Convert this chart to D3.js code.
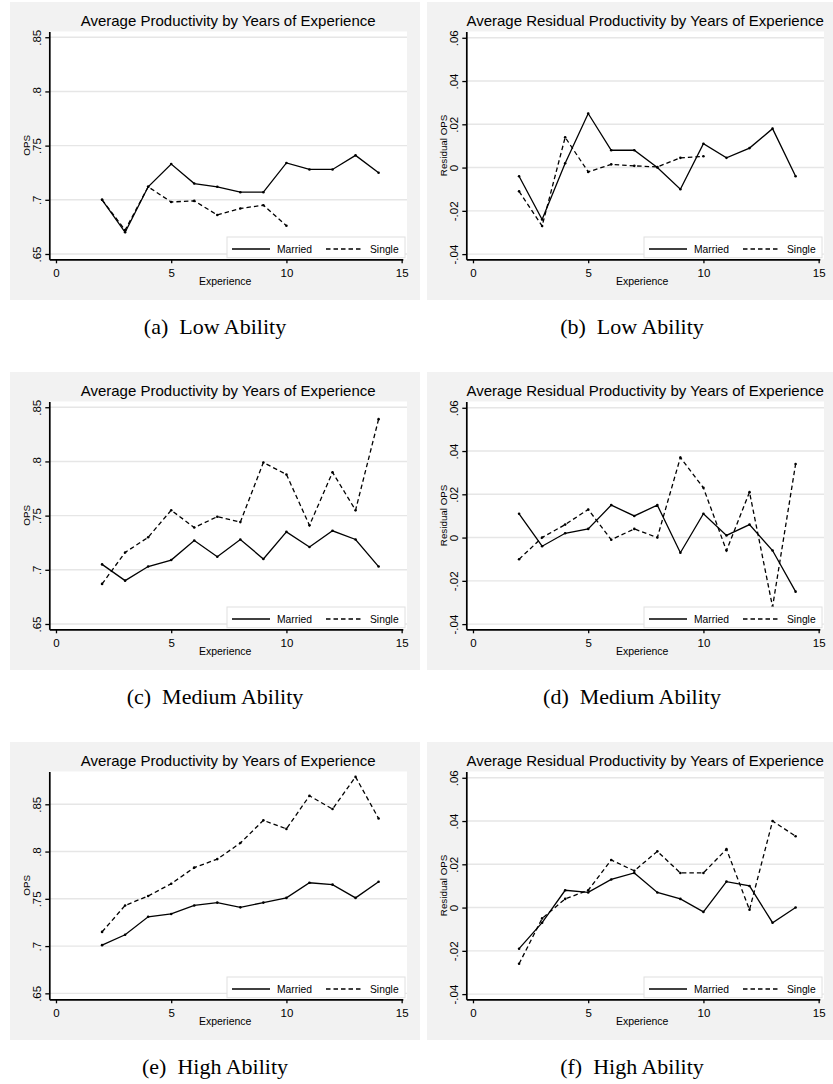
<!DOCTYPE html>
<html>
<head>
<meta charset="utf-8">
<script src="https://cdn.jsdelivr.net/npm/d3@7"></script>
<style>
body{margin:0;background:#fff}
svg{display:block}
text{font-family:"Liberation Sans",Arial,sans-serif;fill:#000}
text.cap{font-family:"Liberation Serif","Times New Roman",serif}
</style>
</head>
<body>
<svg id="fig"></svg>
<script>
// datos
const years = [2,3,4,5,6,7,8,9,10,11,12,13,14]
const yearsLowSingle = [2,3,4,5,6,7,8,9,10]

const lowMarried = [.700,.670,.712,.733,.715,.712,.707,.707,.734,.728,.728,.741,.725]
const lowSingle = [.700,.672,.712,.698,.699,.686,.692,.695,.676]
const lowResMarried = [-.004,-.024,.002,.025,.008,.008,.000,-.010,.011,.0045,.009,.018,-.004]
const lowResSingle = [-.011,-.027,.014,-.002,.0015,.0008,.0003,.0045,.0052]

const midMarried = [.705,.690,.703,.709,.727,.712,.728,.710,.735,.721,.736,.728,.703]
const midSingle = [.687,.716,.730,.755,.739,.749,.744,.799,.788,.741,.790,.755,.839]
const midResMarried = [.011,-.004,.002,.004,.015,.010,.015,-.007,.011,.001,.006,-.006,-.025]
const midResSingle = [-.010,.000,.006,.013,-.001,.004,.000,.037,.023,-.006,.021,-.032,.034]

const highMarried = [.701,.712,.731,.734,.743,.746,.741,.746,.751,.767,.765,.751,.768]
const highSingle = [.715,.743,.753,.766,.783,.792,.809,.833,.824,.859,.845,.879,.835]
const highResMarried = [-.019,-.007,.008,.007,.013,.016,.007,.004,-.002,.012,.010,-.007,.000]
const highResSingle = [-.026,-.005,.004,.008,.022,.017,.026,.016,.016,.027,-.001,.040,.033]

const xTicks = [0,5,10,15]
const opsTicks = [.65,.7,.75,.8,.85]
const resTicks = [-.04,-.02,0,.02,.04,.06]
const legendLabels = ['Married','Single']
const titles = ['Average Productivity by Years of Experience','Average Residual Productivity by Years of Experience']
const captions = ['(a)','(b)','(c)','(d)','(e)','(f)']
const abilities = ['Low Ability','Low Ability','Medium Ability','Medium Ability','High Ability','High Ability']

const width = 833
const height = 1084
const colX = [10, 427]
const rowY = [2, 372, 742]
const pw = 410, ph = 298
const plot = {left: 39.3, right: 397, top: 29.5, bottom: 257.3}

const svg = d3.select('#fig').attr('width', width).attr('height', height)

const fmt = v => String(v).replace(/^(-?)0\./, '$1.')

const panels = [
  {married: lowMarried, single: lowSingle, sy: yearsLowSingle, res: false, dom: [.6451,.8553]},
  {married: lowResMarried, single: lowResSingle, sy: yearsLowSingle, res: true, dom: [-.0424,.0629]},
  {married: midMarried, single: midSingle, sy: years, res: false, dom: [.6451,.8553]},
  {married: midResMarried, single: midResSingle, sy: years, res: true, dom: [-.0424,.0629]},
  {married: highMarried, single: highSingle, sy: years, res: false, dom: [.6437,.8847]},
  {married: highResMarried, single: highResSingle, sy: years, res: true, dom: [-.0424,.0629]}
]

panels.forEach((p, i) => {
  const g = svg.append('g')
    .attr('transform', `translate(${colX[i % 2]},${rowY[Math.floor(i / 2)]})`)

  // fondo gris y area blanca
  g.append('rect').attr('width', pw).attr('height', ph).attr('fill', '#f2f2f2')
  g.append('rect')
    .attr('x', plot.left).attr('y', plot.top)
    .attr('width', plot.right - plot.left).attr('height', plot.bottom - plot.top)
    .attr('fill', '#fff')

  const xScale = d3.scaleLinear().domain([-0.29, 15.05]).range([plot.left, plot.right - 4.2])
  const yScale = d3.scaleLinear().domain(p.dom).range([plot.bottom, plot.top])
  const ticks = p.res ? resTicks : opsTicks

  // lineas de grilla
  g.selectAll('.grid')
    .data(ticks)
    .enter()
    .append('line')
    .attr('x1', plot.left).attr('x2', plot.right)
    .attr('y1', d => yScale(d)).attr('y2', d => yScale(d))
    .attr('stroke', '#e6e6e6').attr('stroke-width', 1.4)

  // titulo
  g.append('text')
    .attr('x', (plot.left + plot.right) / 2).attr('y', 24)
    .attr('text-anchor', 'middle').attr('font-size', 15)
    .text(titles[i % 2])

  // ejes
  const xAxis = g.append('g')
    .attr('transform', `translate(0,${plot.bottom})`)
    .call(d3.axisBottom(xScale).tickValues(xTicks).tickSize(4).tickSizeOuter(0))
  xAxis.select('.domain').attr('stroke-width', 1.7)
  xAxis.selectAll('.tick line').attr('stroke-width', 1.3)
  xAxis.selectAll('.tick text').attr('font-size', 11.5).attr('y', 17.5).attr('dy', 0)
    .attr('font-family', '"Liberation Sans",Arial,sans-serif')

  const yAxis = g.append('g')
    .attr('transform', `translate(${plot.left},0)`)
    .call(d3.axisLeft(yScale).tickValues(ticks).tickSize(4).tickSizeOuter(0).tickFormat(fmt))
  yAxis.select('.domain').attr('stroke-width', 1.7)
  yAxis.selectAll('.tick line').attr('stroke-width', 1.3)
  yAxis.selectAll('.tick text')
    .attr('x', 0).attr('y', 0).attr('dy', 0)
    .attr('transform', 'translate(-8.3,0) rotate(-90)')
    .attr('text-anchor', 'middle').attr('font-size', 11.5)
    .attr('font-family', '"Liberation Sans",Arial,sans-serif')

  g.append('text')
    .attr('x', (plot.left + plot.right) / 2 - 3).attr('y', 283)
    .attr('text-anchor', 'middle').attr('font-size', 10.5)
    .text('Experience')

  g.append('text')
    .attr('transform', `translate(19.5,${(plot.top + plot.bottom) / 2}) rotate(-90)`)
    .attr('text-anchor', 'middle').attr('font-size', 9.8)
    .text(p.res ? 'Residual OPS' : 'OPS')

  // series
  const line = d3.line().x(d => xScale(d[0])).y(d => yScale(d[1]))
  const married = years.map((y, k) => [y, p.married[k]])
  const single = p.sy.map((y, k) => [y, p.single[k]])

  g.append('path').datum(single).attr('d', line)
    .attr('fill', 'none').attr('stroke', '#000').attr('stroke-width', 1.3)
    .attr('stroke-dasharray', '4.5,3')
  g.append('path').datum(married).attr('d', line)
    .attr('fill', 'none').attr('stroke', '#000').attr('stroke-width', 1.3)

  g.selectAll('.dot')
    .data(married.concat(single))
    .enter()
    .append('circle')
    .attr('cx', d => xScale(d[0])).attr('cy', d => yScale(d[1]))
    .attr('r', 1.3).attr('fill', '#000')

  // leyenda
  const lg = g.append('g').attr('transform', 'translate(217,235)')
  lg.append('rect').attr('width', 178).attr('height', 20.7)
    .attr('fill', '#fff').attr('stroke', '#e0e0e0').attr('stroke-width', 1)
  lg.append('line').attr('x1', 5).attr('x2', 43).attr('y1', 12).attr('y2', 12)
    .attr('stroke', '#000').attr('stroke-width', 1.3)
  lg.append('line').attr('x1', 99).attr('x2', 135).attr('y1', 12).attr('y2', 12)
    .attr('stroke', '#000').attr('stroke-width', 1.3).attr('stroke-dasharray', '4.5,3')
  lg.append('text').attr('x', 50).attr('y', 15.5).attr('font-size', 10.3).text(legendLabels[0])
  lg.append('text').attr('x', 143).attr('y', 15.5).attr('font-size', 10.3).text(legendLabels[1])

  // pie de figura
  const cap = g.append('text').attr('class', 'cap')
    .attr('x', pw / 2).attr('y', 331.5)
    .attr('text-anchor', 'middle').attr('font-size', 22)
  cap.append('tspan').text(captions[i])
  cap.append('tspan').attr('dx', 11).text(abilities[i])
})
</script>
</body>
</html>
